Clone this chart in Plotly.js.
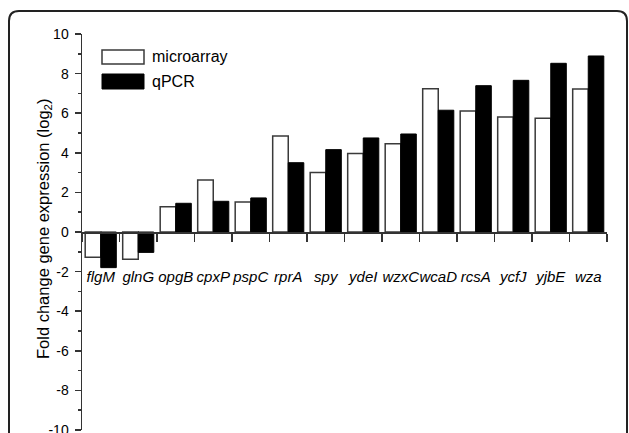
<!DOCTYPE html>
<html>
<head>
<meta charset="utf-8">
<script src="https://cdn.plot.ly/plotly-3.0.1.min.js"></script>
<style>html,body{margin:0;padding:0;background:#fff;}#chart{width:629px;height:433px;}</style>
</head>
<body>
<div id="chart"></div>
<script>
const genes = ["flgM","glnG","opgB","cpxP","pspC","rprA","spy","ydeI","wzxC","wcaD","rcsA","ycfJ","yjbE","wza"];
const microarray = [-1.28,-1.38,1.28,2.63,1.52,4.85,3.0,3.96,4.46,7.24,6.11,5.81,5.74,7.22];
const qpcr = [-1.8,-1.03,1.45,1.55,1.72,3.5,4.16,4.75,4.95,6.15,7.39,7.66,8.52,8.89];
const yTicks = [-10,-8,-6,-4,-2,0,2,4,6,8,10];
const seriesNames = ["microarray","qPCR"];

const W = 629, H = 433;
const m = {l:82, r:22, t:34, b:3};
const pw = W - m.l - m.r, ph = H - m.t - m.b;
const px = x => (x - m.l) / pw;
const py = y => (H - m.b - y) / ph;

const traces = [
  {type:'bar', name:seriesNames[0], x:genes, y:microarray,
   marker:{color:'#ffffff', line:{color:'#3a3a3a', width:1.5}}},
  {type:'bar', name:seriesNames[1], x:genes, y:qpcr,
   marker:{color:'#000000', line:{color:'#000000', width:1}}}
];

// frame with rounded top corners
const xL = px(9), xR = px(627), yT = py(11), yB = py(445);
const rx = 10/pw, ry = 10/ph;
const framePath = `M ${xL},${yB} L ${xL},${yT-ry} Q ${xL},${yT} ${xL+rx},${yT} L ${xR-rx},${yT} Q ${xR},${yT} ${xR},${yT-ry} L ${xR},${yB}`;

const layout = {
  width:W, height:H,
  margin:m,
  paper_bgcolor:'#ffffff', plot_bgcolor:'rgba(0,0,0,0)',
  showlegend:false,
  barmode:'group', bargap:0.17, bargroupgap:0,
  font:{family:'Liberation Sans, Arial, sans-serif', color:'#000'},
  xaxis:{
    type:'category', range:[-0.5, genes.length-0.5],
    anchor:'free', position:0.5,
    showline:true, linecolor:'#333', linewidth:1.5,
    ticks:'outside', tickson:'boundaries', ticklen:8, tickwidth:1.5, tickcolor:'#333',
    tickangle:0, ticklabelstandoff:30,
    tickfont:{size:15, style:'italic', family:'Liberation Sans, Arial, sans-serif'},
    showgrid:false, zeroline:false, fixedrange:true
  },
  yaxis:{
    range:[-10,10], tickvals:yTicks, ticktext:yTicks.map(String),
    showline:true, linecolor:'#333', linewidth:1.5,
    ticks:'outside', ticklen:6, tickwidth:1.5, tickcolor:'#333',
    minor:{dtick:1, tick0:-9, ticks:'outside', ticklen:3, tickwidth:1.5, tickcolor:'#333', showgrid:false},
    ticklabelstandoff:3, ticklabeloverflow:'allow',
    tickfont:{size:14},
    showgrid:false, zeroline:false, fixedrange:true
  },
  shapes:[
    {type:'path', xref:'paper', yref:'paper', path:framePath, line:{color:'#222', width:2}},
    {type:'rect', xref:'paper', yref:'paper', x0:px(102), x1:px(144), y0:py(50), y1:py(64), fillcolor:'#fff', line:{color:'#3a3a3a', width:1.5}},
    {type:'rect', xref:'paper', yref:'paper', x0:px(102), x1:px(144), y0:py(74), y1:py(89), fillcolor:'#000', line:{color:'#000', width:1}}
  ],
  annotations:[
    {xref:'paper', yref:'paper', x:px(150), y:py(57), xanchor:'left', yanchor:'middle', text:seriesNames[0], showarrow:false, font:{size:16}},
    {xref:'paper', yref:'paper', x:px(150), y:py(81), xanchor:'left', yanchor:'middle', text:seriesNames[1], showarrow:false, font:{size:16}},
    {xref:'paper', yref:'paper', x:px(44), y:py(229), xanchor:'center', yanchor:'middle', textangle:-90,
     text:'Fold change gene expression (log<sub>2</sub>)', showarrow:false, font:{size:16.5}}
  ]
};

Plotly.newPlot('chart', traces, layout, {displayModeBar:false, staticPlot:true});
</script>
</body>
</html>
